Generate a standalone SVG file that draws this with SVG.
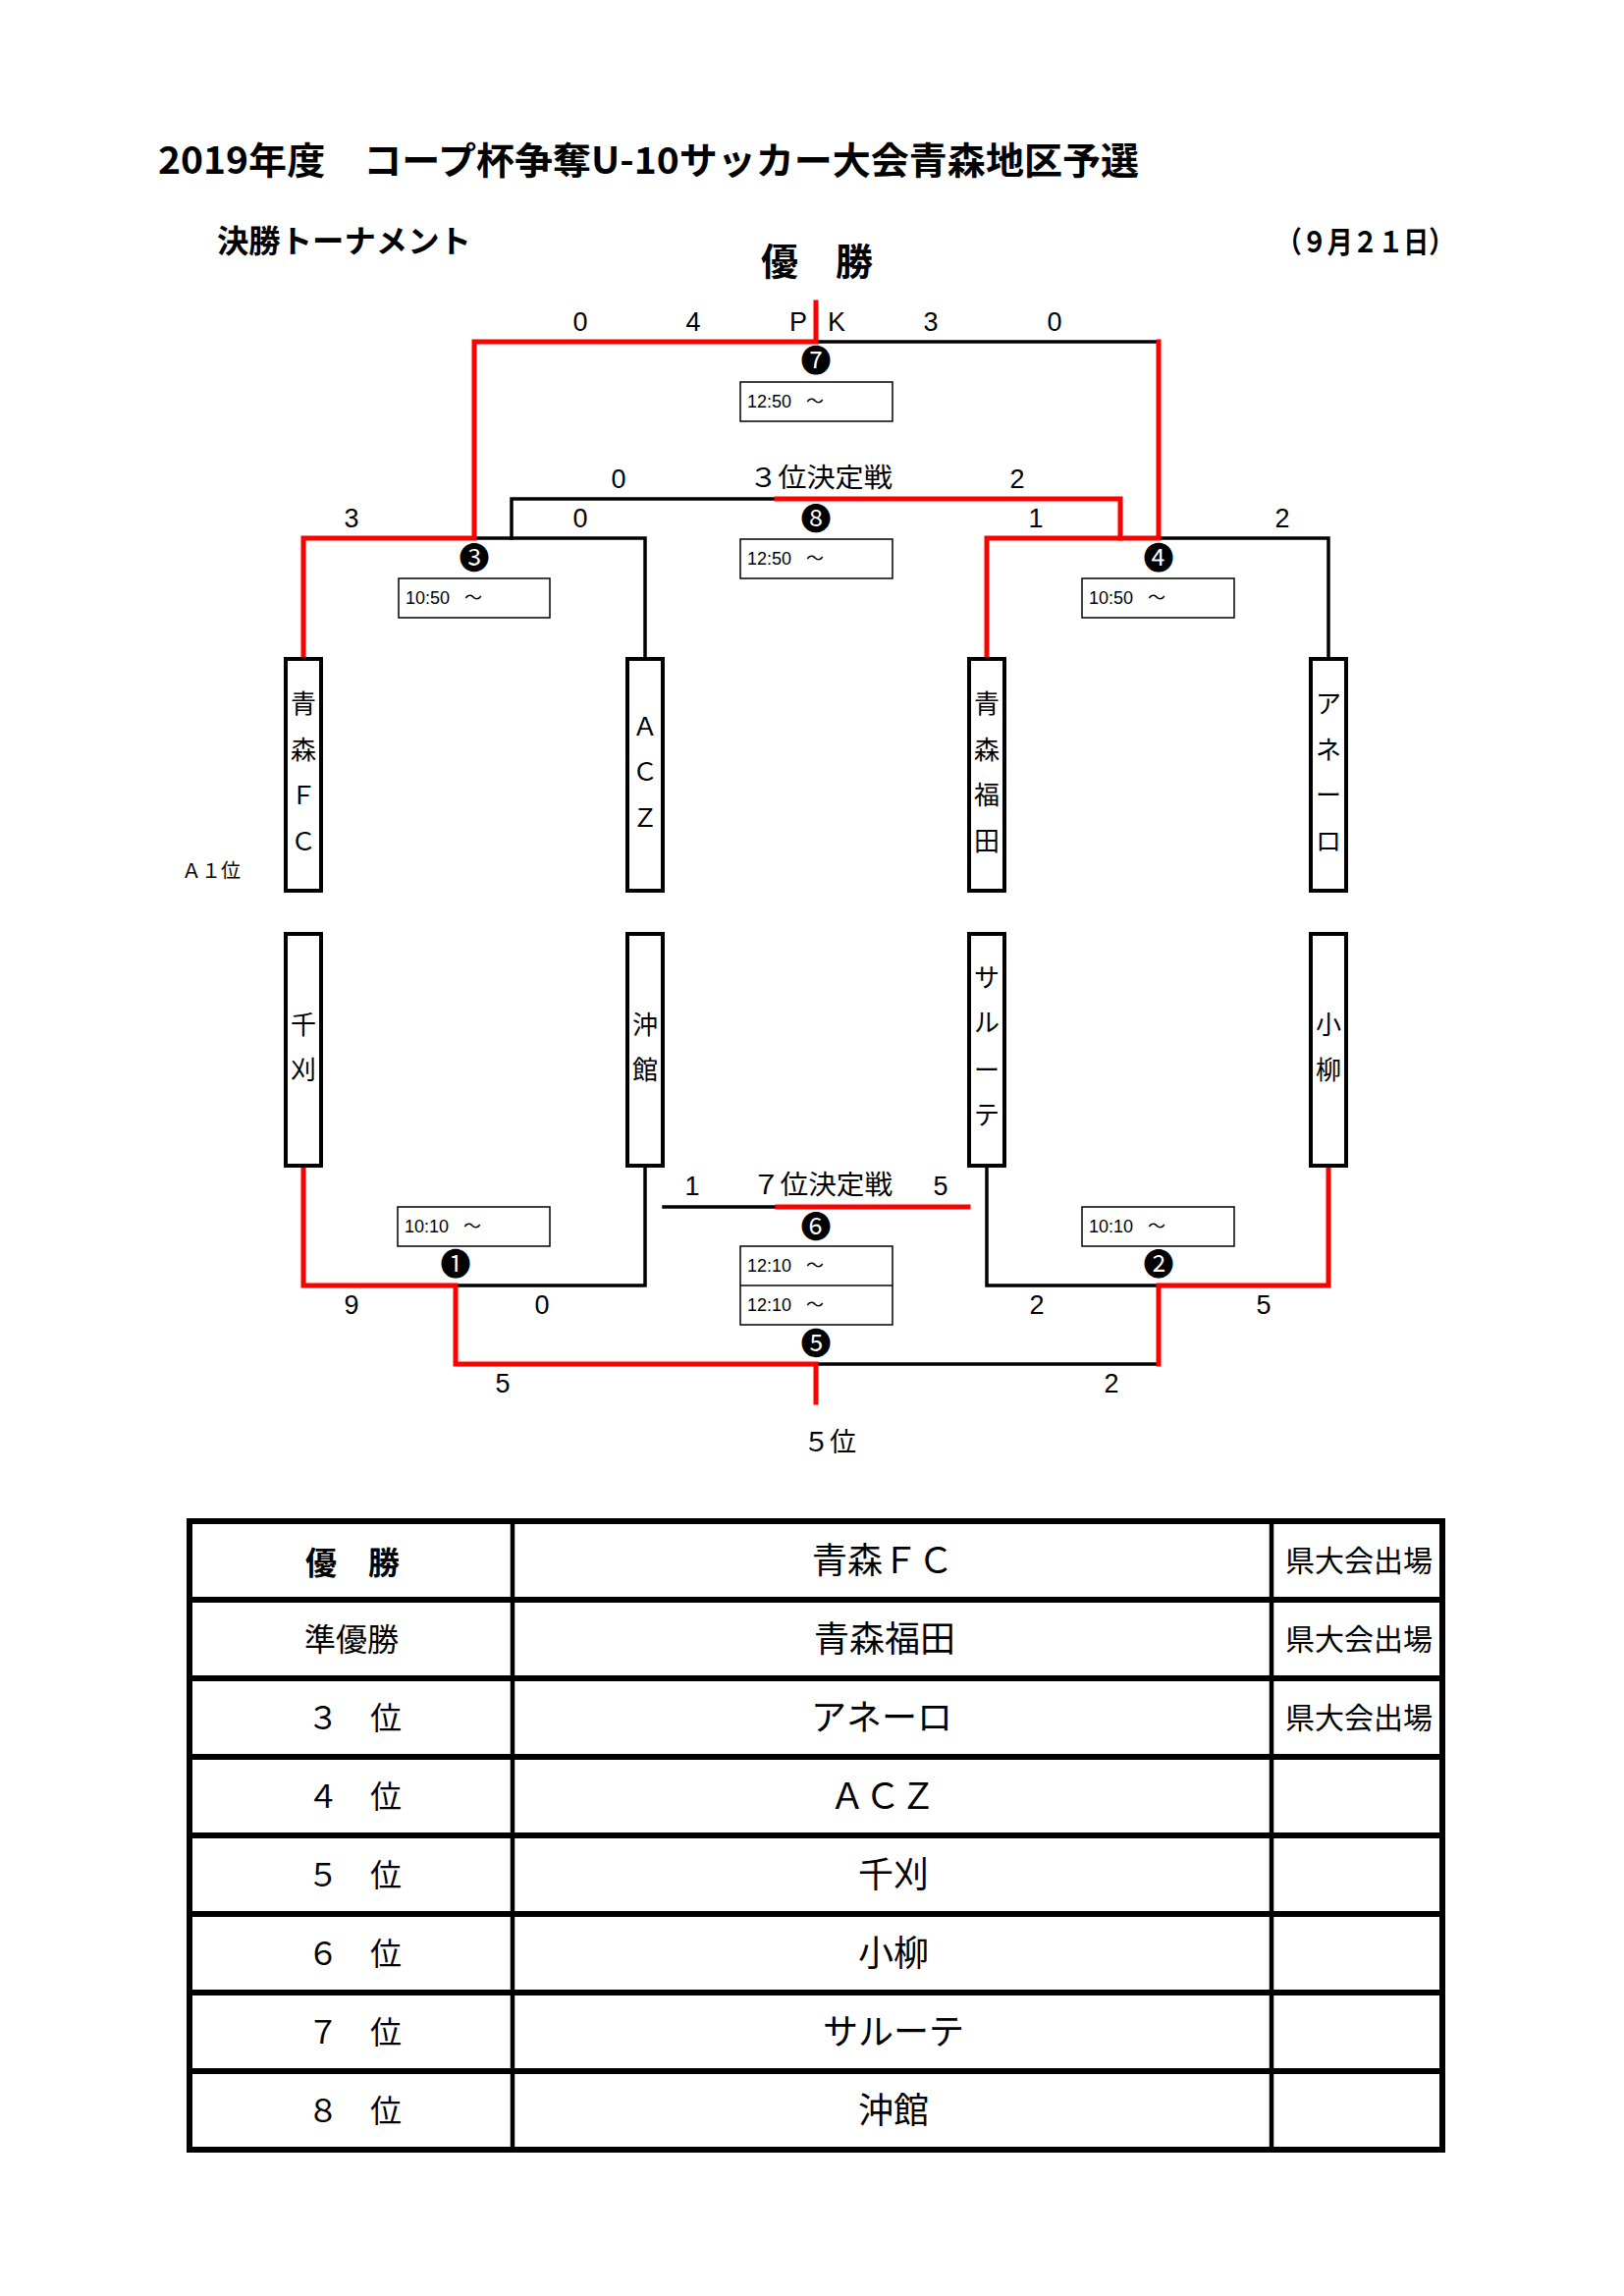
<svg xmlns="http://www.w3.org/2000/svg" width="1654" height="2338" viewBox="0 0 1654 2338">
<style>
text{font-family:"Liberation Sans","Noto Sans CJK JP",sans-serif;fill:#000}
.jp{font-family:"Noto Sans CJK JP","Liberation Sans",sans-serif}
.b{font-weight:bold}
.sc{font-size:27px;text-anchor:middle}
.nm{font-family:"Noto Sans CJK JP",sans-serif;font-size:26px;text-anchor:middle}
.tm{font-size:18px}
.cn{font-family:"Noto Sans CJK JP","DejaVu Sans",sans-serif;font-size:31px;text-anchor:middle}
.bx{fill:#fff;stroke:#000;stroke-width:4}
.tb{fill:#fff;stroke:#000;stroke-width:1.5}
.k{fill:none;stroke:#000;stroke-width:3.5;stroke-linecap:square}
.r{fill:none;stroke:#f00;stroke-width:5;stroke-linecap:square;stroke-linejoin:miter}
.th{stroke:#000;stroke-width:6;fill:none}
.tv{stroke:#000;stroke-width:4.5;fill:none}
.t1{font-family:"Noto Sans CJK JP","Liberation Sans",sans-serif;font-size:32px;text-anchor:middle}
.t2{font-family:"Noto Sans CJK JP","Liberation Sans",sans-serif;font-size:36px;text-anchor:middle}
.t3{font-family:"Noto Sans CJK JP",sans-serif;font-size:30px;text-anchor:middle}
</style>

<rect x="0" y="0" width="1654" height="2338" fill="#fff"/>

<g id="title">
<text class="jp b" x="161" y="177" font-size="38" textLength="999" lengthAdjust="spacingAndGlyphs">2019年度　コープ杯争奪U-10サッカー大会青森地区予選</text>
<text class="jp b" x="221" y="257" font-size="32" textLength="259" lengthAdjust="spacingAndGlyphs">決勝トーナメント</text>
<text class="jp b" x="1300" y="257" font-size="30" textLength="181" lengthAdjust="spacingAndGlyphs">（９月２１日）</text>
<text class="jp b" x="832" y="280" font-size="38" text-anchor="middle">優　勝</text>
</g>

<g id="connectors">
<!-- black (losing) lines -->
<path class="k" d="M831,348 H1180"/>
<path class="k" d="M483,548 H657 V669"/>
<path class="k" d="M1180,548 H1353 V669"/>
<path class="k" d="M521,548 V508 H791"/>
<path class="k" d="M676,1229 H792"/>
<path class="k" d="M464,1309 H657 V1189"/>
<path class="k" d="M1005,1189 V1309 H1180"/>
<path class="k" d="M831,1389 H1180"/>
<!-- red (winning) lines -->
<path class="r" d="M309,669 V548 H483 V348 H831 V308"/>
<path class="r" d="M1005,669 V548 H1180 V348"/>
<path class="r" d="M791,508 H1141 V548"/>
<path class="r" d="M792,1229 H986"/>
<path class="r" d="M309,1189 V1309 H464 V1389 H831 V1428"/>
<path class="r" d="M1353,1189 V1309 H1180 V1389"/>
</g>

<g id="team-aomori-fc">
<rect class="bx" x="291" y="671" width="36" height="236"/>
<text class="nm" x="309" y="726">青</text>
<text class="nm" x="309" y="773">森</text>
<text class="nm" x="309" y="819">Ｆ</text>
<text class="nm" x="309" y="866">Ｃ</text>
</g>
<g id="team-acz">
<rect class="bx" x="639" y="671" width="36" height="236"/>
<text class="nm" x="657" y="749">Ａ</text>
<text class="nm" x="657" y="795">Ｃ</text>
<text class="nm" x="657" y="842">Ｚ</text>
</g>
<g id="team-aomori-fukuda">
<rect class="bx" x="987" y="671" width="36" height="236"/>
<text class="nm" x="1005" y="726">青</text>
<text class="nm" x="1005" y="773">森</text>
<text class="nm" x="1005" y="819">福</text>
<text class="nm" x="1005" y="866">田</text>
</g>
<g id="team-anero">
<rect class="bx" x="1335" y="671" width="36" height="236"/>
<text class="nm" x="1353" y="726">ア</text>
<text class="nm" x="1353" y="773">ネ</text>
<text class="nm" x="1353" y="819">ー</text>
<text class="nm" x="1353" y="866">ロ</text>
</g>
<g id="team-chikari">
<rect class="bx" x="291" y="951" width="36" height="236"/>
<text class="nm" x="309" y="1053">千</text>
<text class="nm" x="309" y="1099">刈</text>
</g>
<g id="team-okidate">
<rect class="bx" x="639" y="951" width="36" height="236"/>
<text class="nm" x="657" y="1053">沖</text>
<text class="nm" x="657" y="1099">館</text>
</g>
<g id="team-salute">
<rect class="bx" x="987" y="951" width="36" height="236"/>
<text class="nm" x="1005" y="1005">サ</text>
<text class="nm" x="1005" y="1051">ル</text>
<text class="nm" x="1005" y="1099">ー</text>
<text class="nm" x="1005" y="1145">テ</text>
</g>
<g id="team-koyanagi">
<rect class="bx" x="1335" y="951" width="36" height="236"/>
<text class="nm" x="1353" y="1053">小</text>
<text class="nm" x="1353" y="1099">柳</text>
</g>

<g id="label-a1">
<text class="jp" x="215" y="894" font-size="20" text-anchor="middle">Ａ１位</text>
</g>

<g id="match-7">
<text class="cn" x="831" y="378">❼</text>
<rect class="tb" x="754" y="389" width="155" height="40"/>
<text class="tm" x="761" y="415">12:50<tspan x="821">～</tspan></text>
<text class="sc" x="591" y="337">0</text>
<text class="sc" x="706" y="337">4</text>
<text class="sc" x="813" y="337">P</text>
<text class="sc" x="852" y="337">K</text>
<text class="sc" x="948" y="337">3</text>
<text class="sc" x="1074" y="337">0</text>
</g>

<g id="match-8">
<text class="cn" x="831" y="539">❽</text>
<rect class="tb" x="754" y="549" width="155" height="40"/>
<text class="tm" x="761" y="575">12:50<tspan x="821">～</tspan></text>
<text class="sc" x="630" y="497">0</text>
<text class="jp" x="763" y="496" font-size="27" textLength="146" lengthAdjust="spacingAndGlyphs">３位決定戦</text>
<text class="sc" x="1036" y="497">2</text>
</g>

<g id="match-3">
<text class="cn" x="483" y="579">❸</text>
<rect class="tb" x="406" y="589" width="154" height="40"/>
<text class="tm" x="413" y="615">10:50<tspan x="473">～</tspan></text>
<text class="sc" x="358" y="537">3</text>
<text class="sc" x="591" y="537">0</text>
</g>

<g id="match-4">
<text class="cn" x="1180" y="579">❹</text>
<rect class="tb" x="1102" y="589" width="155" height="40"/>
<text class="tm" x="1109" y="615">10:50<tspan x="1169">～</tspan></text>
<text class="sc" x="1055" y="537">1</text>
<text class="sc" x="1306" y="537">2</text>
</g>

<g id="match-1">
<rect class="tb" x="405" y="1229" width="155" height="40"/>
<text class="tm" x="412" y="1255">10:10<tspan x="472">～</tspan></text>
<text class="cn" x="464" y="1298">❶</text>
<text class="sc" x="358" y="1338">9</text>
<text class="sc" x="552" y="1338">0</text>
</g>

<g id="match-2">
<rect class="tb" x="1102" y="1229" width="155" height="40"/>
<text class="tm" x="1109" y="1255">10:10<tspan x="1169">～</tspan></text>
<text class="cn" x="1180" y="1298">❷</text>
<text class="sc" x="1056" y="1338">2</text>
<text class="sc" x="1287" y="1338">5</text>
</g>

<g id="match-6">
<text class="sc" x="705" y="1217">1</text>
<text class="jp" x="766" y="1216" font-size="27" textLength="143" lengthAdjust="spacingAndGlyphs">７位決定戦</text>
<text class="sc" x="958" y="1217">5</text>
<text class="cn" x="831" y="1260">❻</text>
<rect class="tb" x="754" y="1269" width="155" height="80"/>
<line x1="754" y1="1309" x2="909" y2="1309" stroke="#000" stroke-width="1.5"/>
<text class="tm" x="761" y="1295">12:10<tspan x="821">～</tspan></text>
</g>

<g id="match-5">
<text class="tm" x="761" y="1335">12:10<tspan x="821">～</tspan></text>
<text class="cn" x="831" y="1379">❺</text>
<text class="sc" x="512" y="1418">5</text>
<text class="sc" x="1132" y="1418">2</text>
<text class="jp" x="845" y="1478" font-size="27" text-anchor="middle">５位</text>
</g>

<g id="results-table">
<rect class="th" x="193" y="1549" width="1276" height="640"/>
<path class="th" d="M193,1629 H1469 M193,1709 H1469 M193,1789 H1469 M193,1869 H1469 M193,1949 H1469 M193,2029 H1469 M193,2109 H1469"/>
<path class="tv" d="M522,1549 V2189 M1295,1549 V2189"/>
<text class="t1 b" x="359" y="1603" font-size="38">優　勝</text>
<text class="t1" x="358" y="1681">準優勝</text>
<text class="t1" x="361" y="1761">３　位</text>
<text class="t1" x="361" y="1841">４　位</text>
<text class="t1" x="361" y="1921">５　位</text>
<text class="t1" x="361" y="2001">６　位</text>
<text class="t1" x="361" y="2081">７　位</text>
<text class="t1" x="361" y="2161">８　位</text>
<text class="t2" x="899" y="1602">青森ＦＣ</text>
<text class="t2" x="901" y="1682">青森福田</text>
<text class="t2" x="898" y="1762">アネーロ</text>
<text class="t2" x="899" y="1842">ＡＣＺ</text>
<text class="t2" x="910" y="1922">千刈</text>
<text class="t2" x="910" y="2002">小柳</text>
<text class="t2" x="910" y="2082">サルーテ</text>
<text class="t2" x="910" y="2162">沖館</text>
<text class="t3" x="1384" y="1600">県大会出場</text>
<text class="t3" x="1384" y="1680">県大会出場</text>
<text class="t3" x="1384" y="1760">県大会出場</text>
</g>
</svg>
